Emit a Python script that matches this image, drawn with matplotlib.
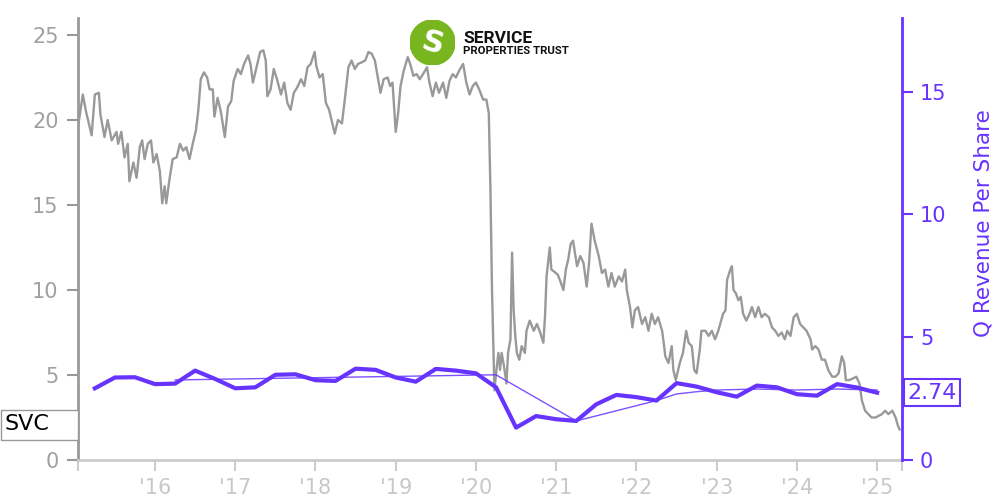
import matplotlib.pyplot as plt
import matplotlib.transforms as mtransforms
from matplotlib.patches import Circle, Rectangle
import numpy as np

# daily close of SVC (decimal year, price)
price_t = [2015.04, 2015.10, 2015.14, 2015.21, 2015.25, 2015.30, 2015.32, 2015.37, 2015.41, 2015.46,
           2015.52, 2015.54, 2015.58, 2015.62, 2015.66, 2015.68, 2015.73, 2015.77, 2015.81, 2015.84,
           2015.87, 2015.91, 2015.95, 2015.98,
           2016.02, 2016.06, 2016.09, 2016.12, 2016.14, 2016.18, 2016.22, 2016.27, 2016.31, 2016.35,
           2016.39, 2016.43, 2016.47, 2016.51, 2016.54, 2016.57, 2016.61, 2016.65, 2016.68, 2016.72,
           2016.74, 2016.78, 2016.82, 2016.87, 2016.91, 2016.95, 2016.98,
           2017.03, 2017.07, 2017.11, 2017.16, 2017.19, 2017.22, 2017.26, 2017.31, 2017.35, 2017.38,
           2017.40, 2017.44, 2017.48, 2017.52, 2017.57, 2017.61, 2017.65, 2017.69, 2017.73, 2017.77,
           2017.82, 2017.86, 2017.90, 2017.94, 2017.99,
           2018.01, 2018.05, 2018.09, 2018.13, 2018.17, 2018.22, 2018.24, 2018.28, 2018.33, 2018.37,
           2018.41, 2018.45, 2018.49, 2018.53, 2018.58, 2018.62, 2018.66, 2018.70, 2018.74, 2018.78,
           2018.81, 2018.85, 2018.90, 2018.93, 2018.96,
           2019.00, 2019.03, 2019.06, 2019.10, 2019.15, 2019.18, 2019.22, 2019.26, 2019.30, 2019.34,
           2019.39, 2019.42, 2019.46, 2019.50, 2019.54, 2019.59, 2019.63, 2019.67, 2019.71, 2019.75,
           2019.79, 2019.84, 2019.88, 2019.92, 2019.96,
           2020.00, 2020.04, 2020.09, 2020.13, 2020.16, 2020.18, 2020.20, 2020.23, 2020.26, 2020.28,
           2020.30, 2020.32, 2020.35, 2020.38, 2020.40, 2020.43, 2020.45, 2020.47, 2020.49, 2020.51,
           2020.54, 2020.57, 2020.61, 2020.63, 2020.67, 2020.72, 2020.76, 2020.80, 2020.84, 2020.86,
           2020.88, 2020.92, 2020.94, 2020.97,
           2021.02, 2021.06, 2021.09, 2021.12, 2021.15, 2021.18, 2021.21, 2021.26, 2021.30, 2021.34,
           2021.38, 2021.41, 2021.44, 2021.48, 2021.53, 2021.57, 2021.61, 2021.65, 2021.69, 2021.73,
           2021.78, 2021.82, 2021.86, 2021.88, 2021.92, 2021.95, 2021.98,
           2022.02, 2022.07, 2022.11, 2022.15, 2022.19, 2022.23, 2022.27, 2022.32, 2022.34, 2022.36,
           2022.40, 2022.44, 2022.46, 2022.49, 2022.54, 2022.58, 2022.62, 2022.65, 2022.69, 2022.72,
           2022.75, 2022.79, 2022.81, 2022.86, 2022.90, 2022.94, 2022.98,
           2023.02, 2023.08, 2023.11, 2023.13, 2023.17, 2023.19, 2023.21, 2023.24, 2023.27, 2023.30,
           2023.33, 2023.37, 2023.41, 2023.44, 2023.48, 2023.52, 2023.56, 2023.60, 2023.65, 2023.69,
           2023.73, 2023.77, 2023.81, 2023.85, 2023.88, 2023.92, 2023.96,
           2024.00, 2024.04, 2024.08, 2024.12, 2024.17, 2024.19, 2024.23, 2024.27, 2024.31, 2024.35,
           2024.39, 2024.44, 2024.48, 2024.52, 2024.56, 2024.59, 2024.61, 2024.65, 2024.70, 2024.74,
           2024.78, 2024.81, 2024.85, 2024.89, 2024.93, 2024.98,
           2025.02, 2025.06, 2025.10, 2025.14, 2025.19, 2025.23, 2025.26, 2025.28]
price = [19.6, 21.5, 20.5, 19.1, 21.5, 21.6, 20.3, 19.0, 20.0, 18.8,
         19.3, 18.6, 19.3, 17.8, 18.6, 16.4, 17.5, 16.6, 18.4, 18.8,
         17.7, 18.6, 18.8, 17.5,
         18.0, 17.0, 15.1, 16.1, 15.1, 16.5, 17.7, 17.8, 18.6, 18.2,
         18.4, 17.7, 18.6, 19.4, 20.6, 22.4, 22.8, 22.5, 21.8, 21.8,
         20.2, 21.3, 20.5, 19.0, 20.8, 21.1, 22.3,
         23.0, 22.7, 23.3, 23.8, 23.3, 22.2, 23.0, 24.0, 24.1, 23.5,
         21.4, 21.8, 23.0, 22.4, 21.5, 22.2, 21.0, 20.6, 21.6, 21.9,
         22.4, 22.0, 23.1, 23.3, 24.0,
         23.2, 22.5, 22.7, 21.0, 20.6, 19.6, 19.2, 20.0, 19.8, 21.4,
         23.1, 23.5, 23.0, 23.3, 23.4, 23.5, 24.0, 23.9, 23.5, 22.4,
         21.6, 22.4, 22.5, 22.0, 22.2,
         19.3, 20.4, 22.0, 22.9, 23.7, 23.3, 22.6, 22.7, 22.4, 22.7,
         23.1, 22.2, 21.4, 22.2, 21.6, 22.2, 21.3, 22.3, 22.7, 22.5,
         22.9, 23.3, 22.2, 21.5, 22.0,
         22.2, 21.8, 21.2, 21.2, 20.4, 16.0, 10.0, 4.1, 5.5, 6.3,
         5.3, 6.3, 5.5, 4.5, 6.3, 7.1, 12.2, 8.8, 7.3, 6.3,
         5.9, 6.7, 6.3, 7.6, 8.2, 7.6, 8.0, 7.5, 6.9, 8.4,
         10.8, 12.5, 11.2, 11.1,
         10.9, 10.4, 10.0, 11.2, 11.8, 12.7, 12.9, 11.4, 12.0, 11.6,
         10.2, 11.6, 13.9, 12.9, 12.0, 11.0, 11.2, 10.2, 11.0, 10.2,
         10.8, 10.5, 11.2, 10.0, 9.0, 7.8, 8.8,
         9.0, 8.0, 8.4, 7.6, 8.6, 8.0, 8.4, 7.6, 6.9, 6.1,
         5.7, 6.7, 5.3, 4.7, 5.7, 6.3, 7.6, 6.9, 6.7, 5.3,
         5.1, 6.5, 7.6, 7.6, 7.3, 7.6, 7.1,
         7.6, 8.6, 8.8, 10.6, 11.2, 11.4, 10.0, 9.8, 9.4, 9.6,
         8.6, 8.2, 8.6, 9.0, 8.4, 9.0, 8.4, 8.6, 8.4, 7.8,
         7.6, 7.3, 7.5, 7.1, 7.6, 7.3, 8.4,
         8.6, 8.0, 7.8, 7.6, 7.1, 6.5, 6.7, 6.5, 5.9, 5.9,
         5.3, 4.9, 4.9, 5.1, 6.1, 5.7, 4.7, 4.7, 4.8, 4.9,
         4.5, 3.5, 2.9, 2.7, 2.5, 2.5,
         2.6, 2.7, 2.9, 2.7, 2.9, 2.5, 2.0, 1.8]

# quarterly revenue per share, Q1 2015 .. Q4 2024
rev_q = [2.92, 3.36, 3.37, 3.09, 3.11, 3.64, 3.30, 2.92, 2.96, 3.47,
         3.49, 3.25, 3.22, 3.72, 3.67, 3.36, 3.19, 3.71, 3.64, 3.53,
         2.96, 1.32, 1.79, 1.66, 1.59, 2.27, 2.65, 2.56, 2.42, 3.13,
         2.99, 2.76, 2.58, 3.03, 2.96, 2.68, 2.62, 3.09, 2.95, 2.74]

# thin line (trailing average), only where it has points
avg_t = [2016.25, 2020.25, 2021.25, 2022.25, 2022.50, 2022.75, 2023.00, 2023.25,
         2023.50, 2023.75, 2024.00, 2024.25, 2024.50, 2024.75, 2025.00]
avg = [3.26, 3.47, 1.59, 2.42, 2.69, 2.78, 2.85, 2.87,
       2.89, 2.87, 2.85, 2.87, 2.89, 2.87, 2.85]

years = list(range(2016, 2026))
year_labels = ["'16", "'17", "'18", "'19", "'20", "'21", "'22", "'23", "'24", "'25"]

purple = '#6633ff'
grey = '#999999'
light = '#cccccc'

fig = plt.figure(figsize=(10, 5), dpi=100)
ax = fig.add_axes([0.078, 0.08, 0.824, 0.884])
ax2 = ax.twinx()

ax.plot(price_t, price, color=grey, lw=1.7)

q_t = 2015.25 + 0.25 * np.arange(len(rev_q))
ax2.plot(q_t, rev_q, color=purple, lw=3)
ax2.plot(avg_t, avg, color=purple, lw=1, alpha=0.85)

x0, x1 = 2015.04, 2025.31
ax.set_xlim(x0, x1)
ax.set_ylim(0, 26)
ax2.set_ylim(0, 18)

ax.set_xticks(years)
ax.set_xticklabels(year_labels)
ax.set_xticks([x0, x1], minor=True)
ax.set_yticks([0, 5, 10, 15, 20, 25])
ax2.set_yticks([0, 5, 10, 15])

for s in ['top', 'right']:
    ax.spines[s].set_visible(False)
for s in ['top', 'left', 'bottom']:
    ax2.spines[s].set_visible(False)
ax.spines['left'].set_color(grey)
ax.spines['left'].set_linewidth(2)
ax.spines['bottom'].set_color(light)
ax.spines['bottom'].set_linewidth(2)
ax2.spines['right'].set_color(purple)
ax2.spines['right'].set_linewidth(2)

ax.tick_params(axis='y', colors=grey, labelcolor='#a0a0a0', labelsize=15,
               length=8, width=1.5, pad=6)
ax.tick_params(axis='x', which='both', colors=light, labelcolor='#c8c8c8',
               labelsize=15, length=8, width=1.5, pad=5)
ax2.tick_params(axis='y', colors=purple, labelcolor=purple, labelsize=15,
                length=8, width=1.5, pad=5)

# last price box on the left
blend = mtransforms.blended_transform_factory(fig.transFigure, ax.transData)
box_y = price[-1] + 0.25
ax.add_patch(Rectangle((0.001, box_y - 0.88), 0.077, 1.76, transform=blend,
                       facecolor='white', edgecolor=grey, lw=1, clip_on=False, zorder=5))
ax.text(0.004, box_y + 0.05, 'SVC', transform=blend, fontsize=16, color='black',
        ha='left', va='center', zorder=6, clip_on=False)

# last revenue box on the right
ax2.annotate('2.74', xy=(1, rev_q[-1]), xycoords=('axes fraction', 'data'),
             xytext=(4, 0), textcoords='offset points', fontsize=16, color=purple,
             ha='left', va='center',
             bbox=dict(boxstyle='square,pad=0.15', facecolor='white', edgecolor=purple, lw=1.5),
             annotation_clip=False)

fig.text(0.984, 1 - 223 / 500, 'Q Revenue Per Share', rotation=90, color=purple,
         fontsize=15.5, ha='center', va='center')

# logo
lax = fig.add_axes([0.41, 0.87, 0.045, 0.09])
lax.set_xlim(-1, 1)
lax.set_ylim(-1, 1)
lax.axis('off')
lax.add_patch(Circle((0, 0), 1, color='#78b51e'))
lax.text(0, -0.05, 'S', color='white', fontsize=22, fontweight='bold',
         ha='center', va='center', rotation=-15)
fig.text(0.463, 1 - 43.3 / 500, 'SERVICE', family='Roboto', fontweight='bold',
         fontsize=12.5, color='#111111')
fig.text(0.463, 1 - 54.3 / 500, 'PROPERTIES TRUST', family='Roboto', fontweight='bold',
         fontsize=8.2, color='#111111')

fig.savefig('out.png', dpi=100)
